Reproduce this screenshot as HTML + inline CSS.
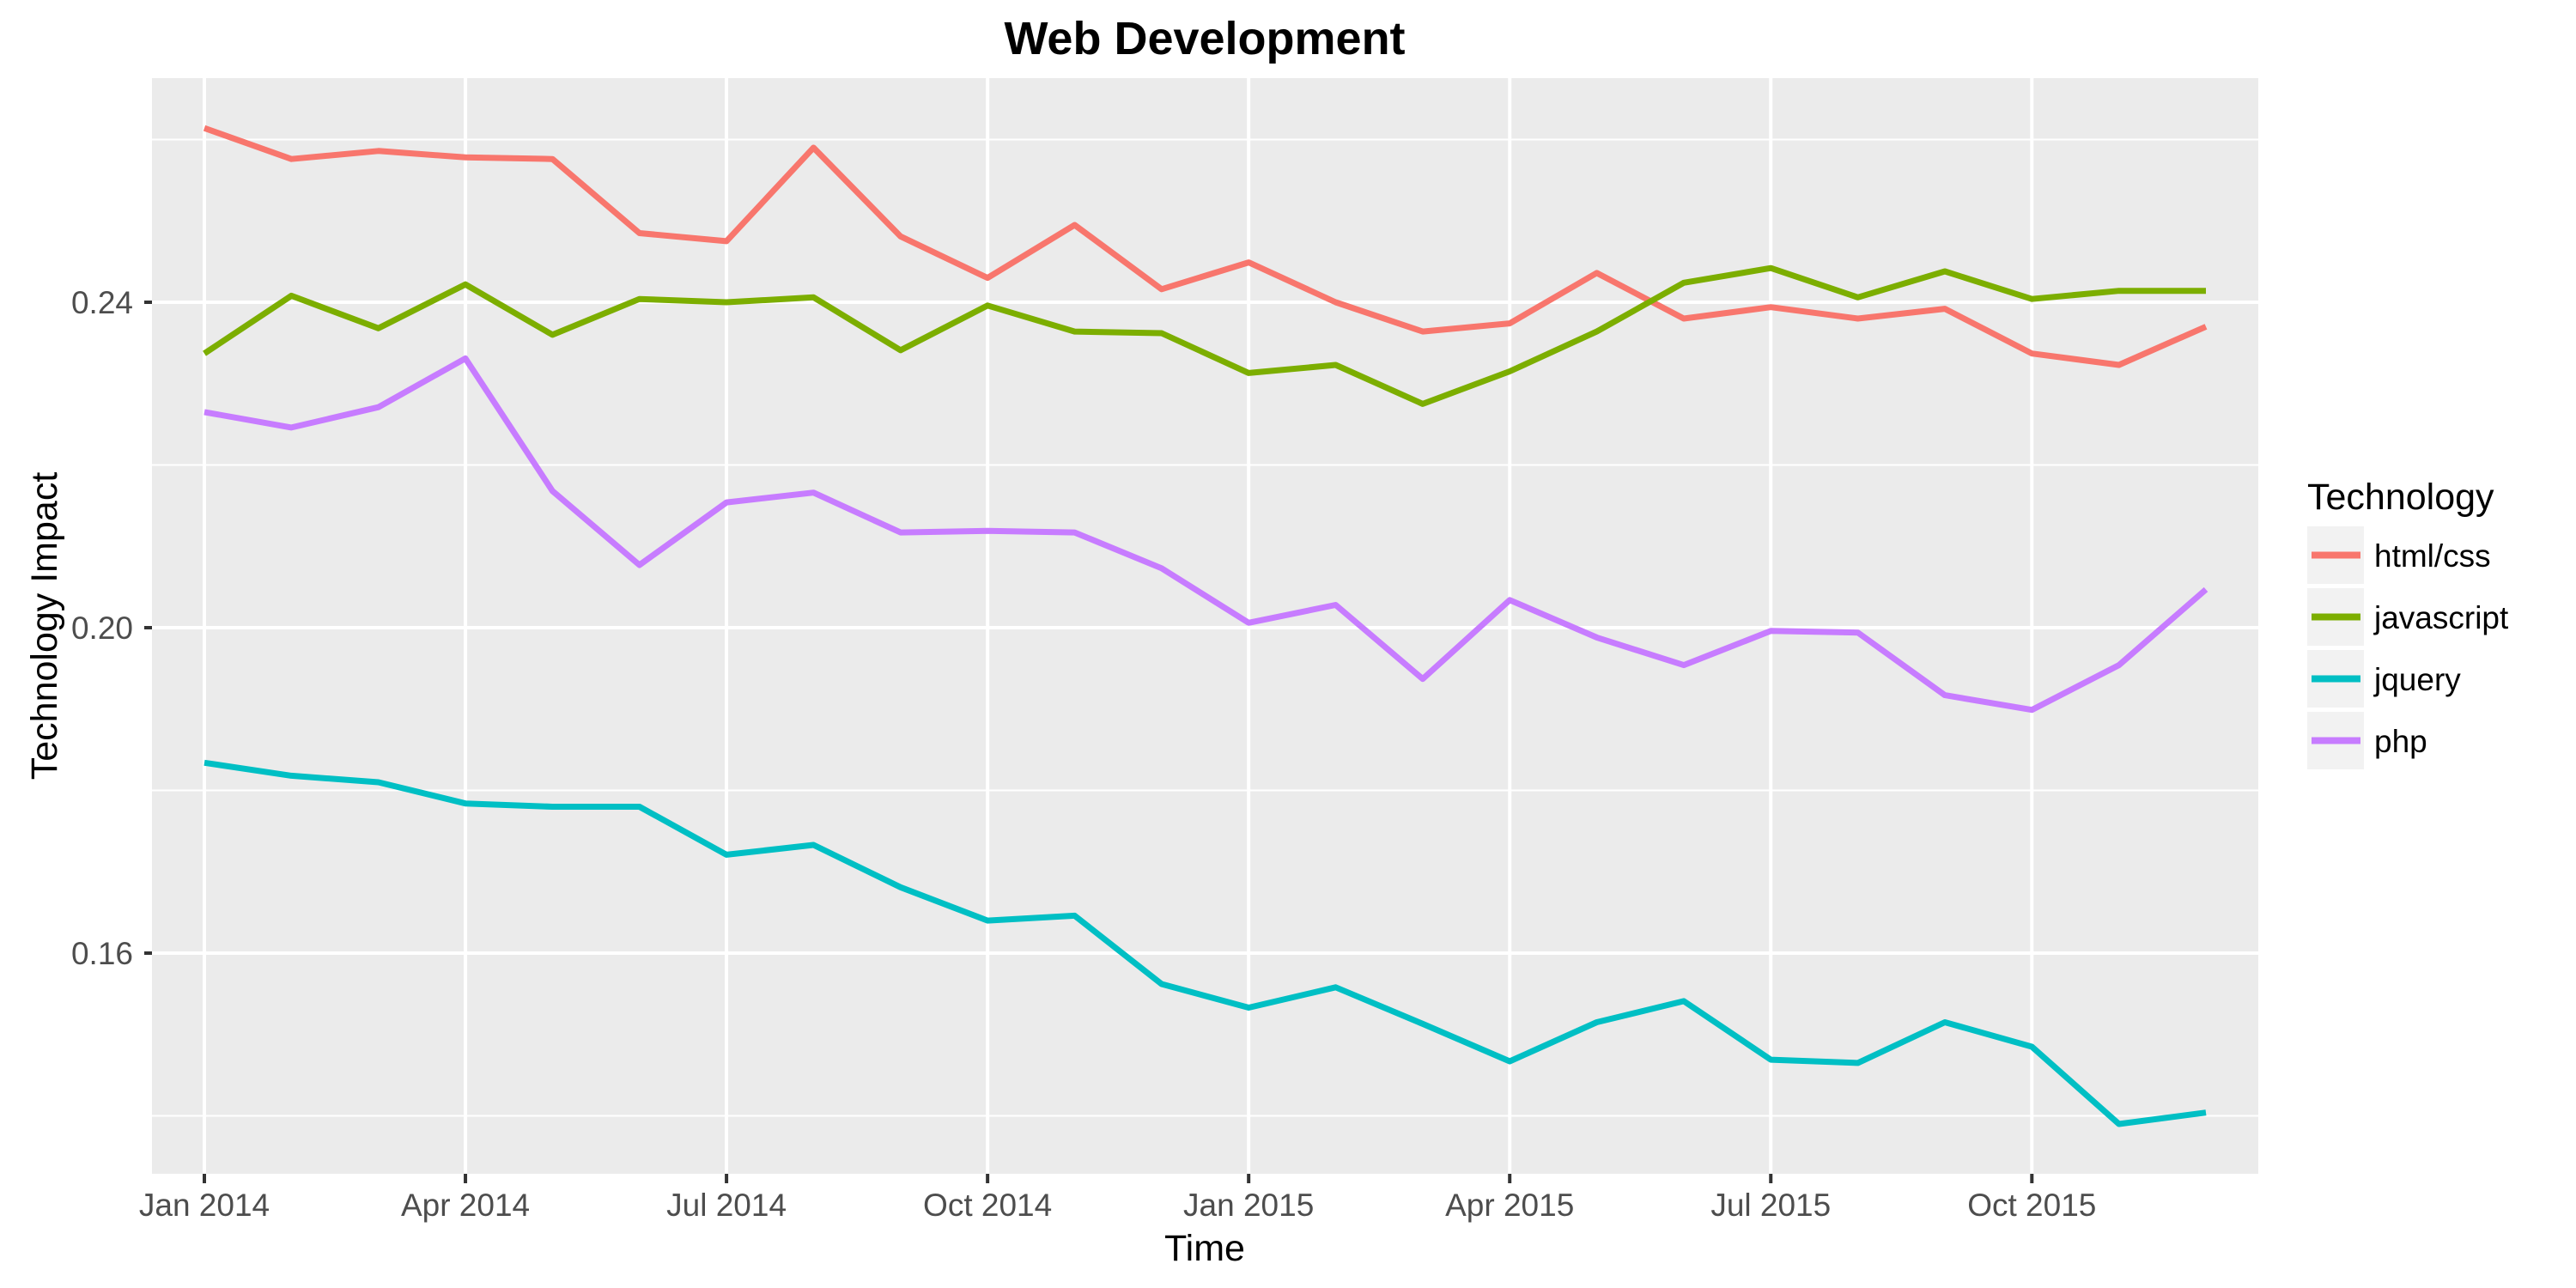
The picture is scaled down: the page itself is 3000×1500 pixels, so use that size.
<!DOCTYPE html>
<html><head><meta charset="utf-8"><style>
html,body{margin:0;padding:0;background:#fff}
svg{display:block}
text{font-family:"Liberation Sans",Arial,sans-serif}
</style></head><body>
<svg id="chart" width="3000" height="1500" viewBox="0 0 3000 1500" xmlns="http://www.w3.org/2000/svg">
<rect width="3000" height="1500" fill="#fff"/>
<text x="1403" y="63" text-anchor="middle" font-size="54" font-weight="bold" fill="#000">Web Development</text>
<rect x="177" y="91" width="2453" height="1276" fill="#EBEBEB"/>
<g id="grid"></g>
<g id="series"></g>
<g id="axes"></g>
<text x="1403" y="1468" text-anchor="middle" font-size="43" fill="#000">Time</text>
<text transform="translate(66,729) rotate(-90)" text-anchor="middle" font-size="43" fill="#000">Technology Impact</text>
<g id="legend">
<text x="2687" y="593" font-size="43" fill="#000">Technology</text>
</g>
</svg>
<script>
const months = ["2014-01","2014-02","2014-03","2014-04","2014-05","2014-06","2014-07","2014-08","2014-09","2014-10","2014-11","2014-12","2015-01","2015-02","2015-03","2015-04","2015-05","2015-06","2015-07","2015-08","2015-09","2015-10","2015-11","2015-12"];
const seriesNames = ["html/css","javascript","jquery","php"];
const htmlcss = [0.2614,0.2576,0.2586,0.2578,0.2576,0.2485,0.2475,0.2590,0.2481,0.2430,0.2495,0.2416,0.2449,0.2400,0.2364,0.2374,0.2436,0.2380,0.2394,0.2380,0.2392,0.2337,0.2323,0.2370];
const javascript = [0.2337,0.2408,0.2368,0.2422,0.2360,0.2404,0.2400,0.2406,0.2341,0.2396,0.2364,0.2362,0.2313,0.2323,0.2275,0.2315,0.2364,0.2424,0.2442,0.2406,0.2438,0.2404,0.2414,0.2414];
const jquery = [0.1834,0.1818,0.1810,0.1784,0.1780,0.1780,0.1721,0.1733,0.1681,0.1640,0.1646,0.1562,0.1533,0.1558,0.1513,0.1467,0.1515,0.1541,0.1469,0.1465,0.1515,0.1485,0.1390,0.1404];
const php = [0.2265,0.2246,0.2271,0.2331,0.2168,0.2077,0.2154,0.2166,0.2117,0.2119,0.2117,0.2073,0.2006,0.2028,0.1937,0.2034,0.1988,0.1954,0.1996,0.1994,0.1917,0.1899,0.1954,0.2047];
const colors = ["#F8766D","#7CAE00","#00BFC4","#C77CFF"];
const yTicks = [0.16,0.20,0.24];
const yTickLabels = ["0.16","0.20","0.24"];
const yMinor = [0.14,0.18,0.22,0.26];
const xTickIdx = [0,3,6,9,12,15,18,21];
const xTickLabels = ["Jan 2014","Apr 2014","Jul 2014","Oct 2014","Jan 2015","Apr 2015","Jul 2015","Oct 2015"];

const NS="http://www.w3.org/2000/svg";
function X(i){return 238 + i*(2569-238)/23;}
function Y(v){return 352 + (0.24-v)/0.04*379;}
function mk(tag,attrs,parent){const e=document.createElementNS(NS,tag);for(const k in attrs)e.setAttribute(k,attrs[k]);parent.appendChild(e);return e;}
const grid=document.getElementById('grid'), axes=document.getElementById('axes'), ser=document.getElementById('series'), leg=document.getElementById('legend');
yMinor.forEach(v=>{const l=mk('line',{x1:177,x2:2630,y1:Y(v),y2:Y(v),stroke:'#fff','stroke-width':2},grid);

});
yTicks.forEach((v,i)=>{const l=mk('line',{x1:177,x2:2630,y1:Y(v),y2:Y(v),stroke:'#fff','stroke-width':4},grid);


const t=mk('line',{x1:168,x2:177,y1:Y(v),y2:Y(v),stroke:'#333','stroke-width':4},axes);


const tx=mk('text',{x:155,y:Y(v)+13,'text-anchor':'end','font-size':37,fill:'#4D4D4D'},axes);tx.textContent=yTickLabels[i];

});
xTickIdx.forEach((idx,i)=>{const l=mk('line',{x1:X(idx),x2:X(idx),y1:91,y2:1367,stroke:'#fff','stroke-width':4},grid);


const t=mk('line',{x1:X(idx),x2:X(idx),y1:1367,y2:1378,stroke:'#333','stroke-width':4},axes);


const tx=mk('text',{x:X(idx),y:1416,'text-anchor':'middle','font-size':37,fill:'#4D4D4D'},axes);tx.textContent=xTickLabels[i];

});
const allSeries=[htmlcss,javascript,jquery,php];
allSeries.forEach((vals,s)=>{const pts=vals.map((v,i)=>X(i).toFixed(1)+','+Y(v).toFixed(1)).join(' ');
const p=mk('polyline',{points:pts,fill:'none',stroke:colors[s],'stroke-width':7,'stroke-linejoin':'round'},ser);


const top=613+s*72;
const bg=mk('rect',{x:2687,y:top,width:66,height:67,fill:'#F2F2F2'},leg);


const ln=mk('line',{x1:2692,x2:2749,y1:top+33.5,y2:top+33.5,stroke:colors[s],'stroke-width':8},leg);


const lt=mk('text',{x:2765,y:top+47,'font-size':37,fill:'#000'},leg);lt.textContent=seriesNames[s];

});
</script>
</body></html>
